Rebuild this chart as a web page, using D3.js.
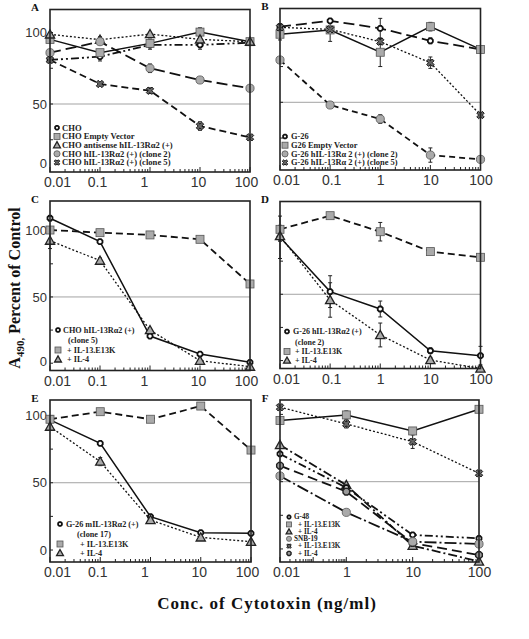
<!DOCTYPE html>
<html><head><meta charset="utf-8">
<script src="https://cdn.jsdelivr.net/npm/d3@7"></script>
<style>body{margin:0;background:#fff} svg{display:block}</style>
</head><body><svg id="c" width="529" height="639"></svg>
<script>
// ---------------- DATA ----------------
const concs = [0.01, 0.1, 1, 10, 100];
const concsF = [0.01, 1, 10, 100];
const xTickLabels = ["0.01", "0.1", "1", "10", "100"];
const xTickLabelsF = ["0.01", "1", "10", "100"];
const yTickLabels = [0, 50, 100];

// Panel A
const aLegend = ["CHO", "CHO Empty Vector", "CHO antisense hIL-13Rα2 (+)", "CHO hIL-13Rα2 (+) (clone 2)", "CHO hIL-13Rα2 (+) (clone 5)"];
const aCHO = [80.8, 83.1, 91.3, 91.3, 92.9];
const aCHOErr = [1, 3, 3, 3, 2];
const aEmpty = [95.2, 85.9, 92.4, 100.3, 93.6];
const aEmptyErr = [2, 2, 3, 3, 2];
const aAntisense = [98.7, 95.0, 98.9, 95.2, 93.6];
const aAntisenseErr = [1, 2, 1, 2, 2];
const aClone2 = [85.9, 93.6, 75.0, 66.8, 61.0];
const aClone2Err = [1, 2, 3, 1, 2];
const aClone5 = [80.8, 64.0, 59.3, 34.6, 26.7];
const aClone5Err = [1, 1, 2, 3, 1];

// Panel B
const bLegend = ["G-26", "G26 Empty Vector", "G-26 hIL-13Rα 2 (+) (clone 2)", "G-26 hIL-13Rα 2 (+) (clone 5)"];
const bG26 = [102.9, 107.0, 101.7, 93.0, 87.0];
const bG26Err = [2, 1, 7, 2, 2];
const bEmpty = [97.6, 100.6, 85.0, 102.9, 87.0];
const bEmptyErr = [4, 8, 10, 3, 2];
const bClone2 = [79.6, 48.1, 38.3, 13.1, 10.1];
const bClone2Err = [1, 1, 3, 5, 1];
const bClone5 = [102.4, 101.0, 92.4, 77.7, 41.1];
const bClone5Err = [2, 2, 2, 4, 1];

// Panel C
const cLegend = ["CHO hIL-13Rα2 (+)", "(clone 5)", "+ IL-13.E13K", "+ IL-4"];
const cCell = [109.4, 91.7, 20.5, 6.9, 0.7];
const cCellErr = [2, 1, 1, 1, 1];
const cE13K = [100.5, 98.5, 96.8, 93.5, 59.8];
const cE13KErr = [2, 2, 2, 2, 1];
const cIL4 = [92.5, 77.4, 25.0, 1.9, -2.6];
const cIL4Err = [6, 2, 1, 1, 1];

// Panel D
const dLegend = ["G-26 hIL-13Rα2 (+)", "(clone 2)", "+ IL-13.E13K", "+ IL-4"];
const dCell = [93.0, 52.0, 38.9, 7.4, 3.7];
const dCellErr = [16, 12, 6, 2, 7];
const dE13K = [99.0, 109.3, 97.2, 82.2, 77.9];
const dE13KErr = [3, 1, 7, 1, 1];
const dIL4 = [94.0, 45.7, 19.3, 0.4, -6.0];
const dIL4Err = [4, 13, 9, 2, 1];

// Panel E
const eLegend = ["G-26 mIL-13Rα2 (+)", "(clone 17)", "+ IL-13.E13K", "+ IL-4"];
const eCell = [96.7, 79.3, 24.8, 12.9, 12.4];
const eCellErr = [1, 1, 1, 1, 1];
const eE13K = [97.2, 102.8, 97.2, 107.0, 74.3];
const eE13KErr = [1, 1, 1, 1, 1];
const eIL4 = [91.7, 65.7, 22.3, 9.4, 6.2];
const eIL4Err = [2, 3, 1, 1, 1];

// Panel F
const fLegend = ["G-48", "+ IL-13.E13K", "+ IL-4", "SNB-19", "+ IL-13.E13K", "+ IL-4"];
const fG48 = [70.6, 45.5, 10.4, 7.9];
const fG48E13K = [95.4, 99.6, 87.7, 103.8];
const fG48E13KErr = [2, 3, 1, 1];
const fG48IL4 = [77.3, 47.5, 2.4, -9.3];
const fSNB = [54.2, 27.2, 5.4, 3.7];
const fSNBE13K = [105.3, 92.9, 79.7, 56.2];
const fSNBE13KErr = [1, 3, 5, 1];
const fSNBIL4 = [61.9, 42.6, 4.4, -4.5];
const fSmallErr = [1, 1, 1, 1];

const yTitleMain = "A";
const yTitleSub = "490,";
const yTitleRest = " Percent of Control";
const xTitle = "Conc. of Cytotoxin (ng/ml)";

// ---------------- DRAWING ----------------
const SERIF = "'Liberation Serif','Times New Roman',Times,serif";
const SANS = "'Liberation Sans',Arial,Helvetica,sans-serif";
const svg = d3.select("#c");

function octPath(r){
  const p=[]; for(let i=0;i<8;i++){const a=Math.PI/8+i*Math.PI/4; p.push([(r*Math.cos(a)).toFixed(2),(r*Math.sin(a)).toFixed(2)]);}
  return "M"+p.map(d=>d.join(",")).join("L")+"Z";
}
function marker(g, type, x, y, s){
  s = s||1;
  const t = g.append("g").attr("transform",`translate(${x},${y})`);
  if(type==="oct") t.append("path").attr("d",octPath(2.7*s)).attr("fill","#fff").attr("stroke","#111").attr("stroke-width",1.8);
  else if(type==="goct") t.append("path").attr("d",octPath(3.6*s)).attr("fill","#9a9a9a").attr("stroke","#222").attr("stroke-width",1.4);
  else if(type==="sq") t.append("rect").attr("x",-4*s).attr("y",-4*s).attr("width",8*s).attr("height",8*s).attr("fill","#aaa").attr("stroke","#555").attr("stroke-width",0.8);
  else if(type==="tri") t.append("path").attr("d",`M0,${-4.6*s}L${4.6*s},${3.6*s}L${-4.6*s},${3.6*s}Z`).attr("fill","#aaa").attr("stroke","#222").attr("stroke-width",1.3);
  else if(type==="circ") t.append("circle").attr("r",4.1*s).attr("fill","#aaa").attr("stroke","#555").attr("stroke-width",0.8);
  else if(type==="x") t.append("path").attr("d",d3.symbol(d3.symbolCross, 34*s*s)()).attr("transform","rotate(45)").attr("fill","#666").attr("stroke","#111").attr("stroke-width",0.9);
}

const DASHDOT2 = "8,3,2,3,2,3";
const panels = [
 {letter:"A", x0:50, x1:250, y0:9.5, y1:172, lo:2.45, hi:116.1, left:true, xd:concs, xl:xTickLabels,
  series:[
   {v:aCHO, e:aCHOErr, m:"oct", dash:DASHDOT2},
   {v:aEmpty, e:aEmptyErr, m:"sq", dash:null},
   {v:aAntisense, e:aAntisenseErr, m:"tri", dash:"2,2"},
   {v:aClone2, e:aClone2Err, m:"circ", dash:"11,5"},
   {v:aClone5, e:aClone5Err, m:"x", dash:"7,4"}],
  legend:{mx:57, tx:62, fs:8.6, rows:[[127.7,"oct",0],[136.4,"sq",1],[145.1,"tri",2],[153.8,"circ",3],[162.5,"x",4]], texts:aLegend}},
 {letter:"B", x0:280, x1:480.5, y0:8.5, y1:170, lo:2.66, hi:115.6, left:false, xd:concs, xl:xTickLabels,
  series:[
   {v:bG26, e:bG26Err, m:"oct", dash:"11,5"},
   {v:bEmpty, e:bEmptyErr, m:"sq", dash:null},
   {v:bClone2, e:bClone2Err, m:"circ", dash:"6,4"},
   {v:bClone5, e:bClone5Err, m:"x", dash:"2,2"}],
  legend:{mx:285, tx:291, fs:8.4, rows:[[136.5,"oct",0],[145.2,"sq",1],[153.9,"circ",2],[162.6,"x",3]], texts:bLegend}},
 {letter:"C", x0:50, x1:250, y0:201, y1:370.5, lo:-5.5, hi:122.4, left:true, xd:concs, xl:xTickLabels,
  series:[
   {v:cCell, e:cCellErr, m:"oct", dash:null},
   {v:cE13K, e:cE13KErr, m:"sq", dash:"7,4"},
   {v:cIL4, e:cIL4Err, m:"tri", dash:"2,2"}],
  legend:{mx:58, tx:63, fs:8.2, rows:[[330,"oct",0],[340.5,null,1,68],[350,"sq",2,67],[359.3,"tri",3,67]], texts:cLegend}},
 {letter:"D", x0:280, x1:480.5, y0:201.5, y1:368.5, lo:-6, hi:120, left:false, xd:concs, xl:xTickLabels,
  series:[
   {v:dCell, e:dCellErr, m:"oct", dash:null},
   {v:dE13K, e:dE13KErr, m:"sq", dash:"7,4"},
   {v:dIL4, e:dIL4Err, m:"tri", dash:"2,2"}],
  legend:{mx:287, tx:293, fs:8, rows:[[331.5,"oct",0],[342.3,null,1,295],[351.4,"sq",2,295],[360.5,"tri",3,295]], texts:dLegend}},
 {letter:"E", x0:50, x1:251, y0:400, y1:562, lo:-8.9, hi:111.5, left:true, xd:concs, xl:xTickLabels,
  series:[
   {v:eCell, e:eCellErr, m:"oct", dash:null},
   {v:eE13K, e:eE13KErr, m:"sq", dash:"7,4"},
   {v:eIL4, e:eIL4Err, m:"tri", dash:"2,2"}],
  legend:{mx:60, tx:66, fs:8.2, rows:[[524,"oct",0],[534.5,null,1,77],[544,"sq",2,80],[553,"tri",3,80]], texts:eLegend}},
 {letter:"F", x0:280, x1:479, y0:400, y1:562, lo:-9.7, hi:110.7, left:false, xd:concsF, xl:xTickLabelsF, piecewise:true,
  series:[
   {v:fG48E13K, e:fG48E13KErr, m:"sq", dash:null},
   {v:fSNBE13K, e:fSNBE13KErr, m:"x", dash:"2,2"},
   {v:fG48IL4, e:fSmallErr, m:"tri", dash:"9,3,2,3"},
   {v:fG48, e:fSmallErr, m:"oct", dash:DASHDOT2},
   {v:fSNBIL4, e:fSmallErr, m:"goct", dash:"10,5"},
   {v:fSNB, e:fSmallErr, m:"circ", dash:"12,3,2,3"}],
  legend:{mx:289, tx:294, fs:7.2, ms:0.62, rows:[[517,"oct",0],[524.4,"sq",1,298],[531.6,"tri",2,298],[538.8,"circ",3],[546.1,"x",4,298],[553.4,"goct",5,298]], texts:fLegend}}
];

const labelNudge = {left:{"0.01":7,"0.1":-3,"1":-6,"10":-2,"100":-4}, right:{"0.01":6,"0.1":1,"1":0,"10":0,"100":0}};

panels.forEach(p=>{
  const g = svg.append("g");
  let x;
  if(p.piecewise){
    const dom = p.xd; const step=(p.x1-p.x0)/(dom.length-1);
    x = d3.scaleLog().domain(dom).range(dom.map((d,i)=>p.x0+i*step));
  } else {
    x = d3.scaleLog().domain([p.xd[0], p.xd[p.xd.length-1]]).range([p.x0,p.x1]);
  }
  const y = d3.scaleLinear().domain([p.lo,p.hi]).range([p.y1,p.y0]);

  // 50% reference line
  g.append("line").attr("x1",p.x0).attr("x2",p.x1).attr("y1",y(50)).attr("y2",y(50))
    .attr("stroke","#999").attr("stroke-width",0.9);

  // minor & major x ticks (inside, from bottom)
  const tickVals=[];
  for(let dec=-2; dec<2; dec++){
    for(let k=1;k<10;k++){ const v=k*Math.pow(10,dec); if(v>=0.01 && v<=100) tickVals.push({v, major:k===1}); }
  }
  tickVals.push({v:100, major:true});
  const gx = g.append("g");
  tickVals.forEach(t=>{
    const xx = x(t.v);
    gx.append("line").attr("x1",xx).attr("x2",xx).attr("y1",p.y1).attr("y2",p.y1-(t.major?5:3))
      .attr("stroke","#222").attr("stroke-width",1);
  });
  // y ticks inside left
  [0,25,50,75,100].forEach(v=>{
    const yy=y(v); if(yy<p.y0||yy>p.y1) return;
    g.append("line").attr("x1",p.x0).attr("x2",p.x0+3).attr("y1",yy).attr("y2",yy).attr("stroke","#222").attr("stroke-width",1);
  });

  // x tick labels via axis
  const ax = d3.axisBottom(x).tickValues(p.xd).tickSize(0).tickPadding(0)
     .tickFormat((d,i)=>p.xl[i]);
  const axg = g.append("g").attr("transform",`translate(0,${p.y1})`).call(ax);
  axg.select(".domain").remove();
  const nudge = p.left?labelNudge.left:labelNudge.right;
  axg.selectAll("text").attr("font-family",SANS).attr("font-size",14).attr("fill","#333")
     .attr("dy",null).attr("y",15).attr("dx",function(d,i){return nudge[p.xl[i]]||0;});

  if(p.left){
    const ay = d3.axisLeft(y).tickValues(yTickLabels).tickSize(0).tickPadding(0).tickFormat(d3.format("d"));
    const ayg = g.append("g").attr("transform",`translate(${p.x0-3},0)`).call(ay);
    ayg.select(".domain").remove();
    ayg.selectAll(".tick").attr("transform",d=>`translate(0,${Math.min(y(d), p.y1-9)})`);
    ayg.selectAll("text").attr("font-family",SANS).attr("font-size",13).attr("fill","#333").attr("dy","0.36em");
  }

  // series lines
  const clip = "clip"+p.letter;
  g.append("clipPath").attr("id",clip).append("rect").attr("x",p.x0-6).attr("y",p.y0).attr("width",p.x1-p.x0+12).attr("height",p.y1-p.y0);
  const lg = g.append("g").attr("clip-path",`url(#${clip})`);
  const line = d3.line().x((d,i)=>x(p.xd[i])).y(d=>y(d));
  p.series.forEach(s=>{
    lg.append("path").attr("d",line(s.v)).attr("fill","none").attr("stroke","#111")
      .attr("stroke-width", s.dash? (s.dash==="2,2"?1.3:1.8):1.5)
      .attr("stroke-dasharray", s.dash);
  });
  // error bars
  p.series.forEach(s=>{
    s.v.forEach((v,i)=>{
      const e=s.e[i]; if(!e || e<1.5) return;
      const xx=x(p.xd[i]);
      const ya=y(v+e), yb=y(v-e);
      lg.append("line").attr("x1",xx).attr("x2",xx).attr("y1",ya).attr("y2",yb).attr("stroke","#222").attr("stroke-width",1);
      [ya,yb].forEach(yy=>lg.append("line").attr("x1",xx-2).attr("x2",xx+2).attr("y1",yy).attr("y2",yy).attr("stroke","#222").attr("stroke-width",1));
    });
  });
  // markers
  p.series.forEach(s=>{
    s.v.forEach((v,i)=>marker(g, s.m, x(p.xd[i]), y(v), 1));
  });

  // frame
  g.append("rect").attr("x",p.x0).attr("y",p.y0).attr("width",p.x1-p.x0).attr("height",p.y1-p.y0)
    .attr("fill","none").attr("stroke","#222").attr("stroke-width",1.6);

  // panel letter
  g.append("text").attr("x",p.x0-15).attr("y",p.y0+1.5).attr("font-family",SERIF).attr("font-weight","bold")
    .attr("font-size",11).attr("fill","#111").attr("text-anchor","middle").text(p.letter);

  // legend
  const L=p.legend;
  L.rows.forEach(r=>{
    const [ry, m, ti, tx] = r;
    if(m) marker(g, m, L.mx, ry, L.ms||0.75);
    g.append("text").attr("x", tx!==undefined?tx:L.tx).attr("y",ry+L.fs*0.33).attr("font-family",SERIF)
      .attr("font-weight","bold").attr("font-size",L.fs).attr("fill","#222").text(L.texts[ti]);
  });
});

// Y title
const yt = svg.append("text").attr("transform","translate(20,288) rotate(-90)")
  .attr("text-anchor","middle").attr("font-family",SERIF).attr("font-weight","bold").attr("font-size",16).attr("fill","#111");
yt.append("tspan").text(yTitleMain);
yt.append("tspan").attr("font-size",11).attr("dy",4).text(yTitleSub);
yt.append("tspan").attr("dy",-4).text(yTitleRest);

// X title
svg.append("text").attr("x",267).attr("y",609).attr("text-anchor","middle").attr("font-family",SERIF)
  .attr("font-weight","bold").attr("font-size",17).attr("letter-spacing",1).attr("fill","#111").text(xTitle);
</script></body></html>
